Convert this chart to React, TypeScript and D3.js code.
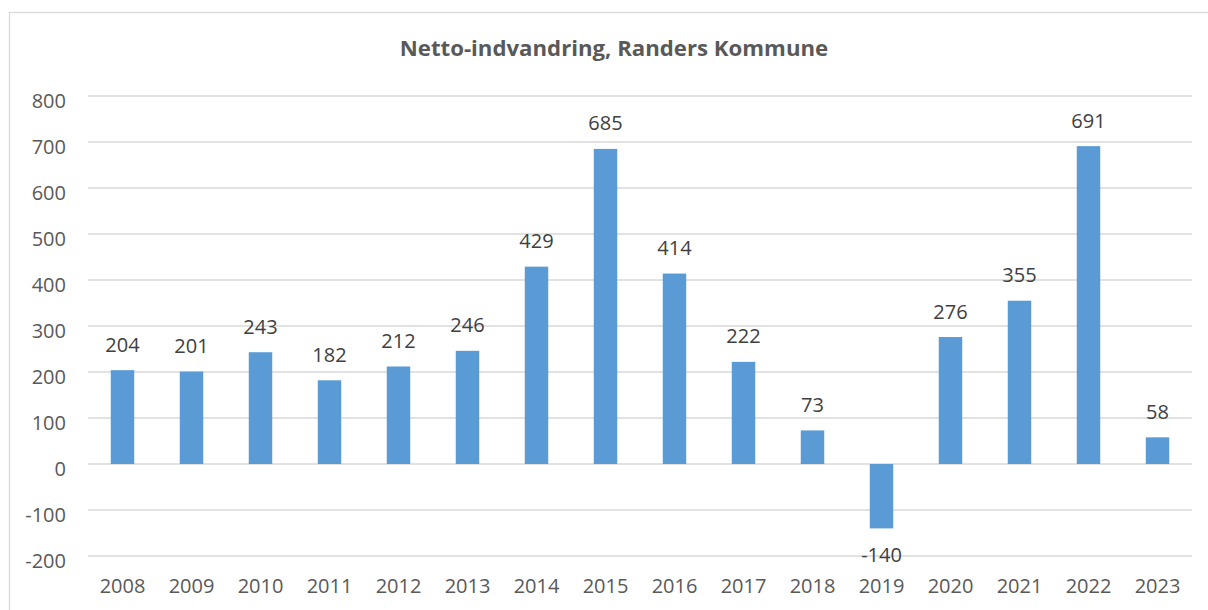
import React from "react";
import * as d3 from "d3";

const years = ["2008","2009","2010","2011","2012","2013","2014","2015","2016","2017","2018","2019","2020","2021","2022","2023"];
const values = [204, 201, 243, 182, 212, 246, 429, 685, 414, 222, 73, -140, 276, 355, 691, 58];
const yTicks = [-200, -100, 0, 100, 200, 300, 400, 500, 600, 700, 800];
const title = "Netto-indvandring, Randers Kommune";

const W = 1208, H = 610;
const FONT = "'Open Sans', sans-serif";

export default function App() {
  const x = d3.scaleBand<string>().domain(years).range([88, 1192]).paddingInner(0.66).paddingOuter(0.33);
  const y = d3.scaleLinear().domain([-200, 800]).range([556, 96]);
  const bw = x.bandwidth();
  return (
    <svg width={W} height={H} style={{ position: "absolute", left: 0, top: 0, background: "#fff" }}>
      <rect x={9.5} y={12.5} width={1400} height={800} fill="#fff" stroke="#d9d9d9" strokeWidth={1.3} />
      <text x={614} y={56} textAnchor="middle" fontFamily={FONT} fontWeight="bold" fontSize={22.2} fill="#595959">{title}</text>
      {yTicks.map(t => (
        <g key={t}>
          <line x1={88} x2={1192} y1={y(t)} y2={y(t)} stroke="#d9d9d9" strokeWidth={1.5} />
          <text x={66} y={y(t) + 12} textAnchor="end" fontFamily={FONT} fontSize={20} fill="#595959">{t}</text>
        </g>
      ))}
      {years.map((yr, i) => {
        const v = values[i];
        const x0 = x(yr)!;
        const top = y(Math.max(0, v));
        const bot = y(Math.min(0, v));
        const cx = x0 + bw / 2;
        return (
          <g key={yr}>
            <rect x={x0} y={top} width={bw} height={bot - top} fill="#5b9bd5" />
            <text x={cx} y={v >= 0 ? top - 18.5 : bot + 34} textAnchor="middle" fontFamily={FONT} fontSize={20} fill="#404040">{v}</text>
            <text x={cx} y={593} textAnchor="middle" fontFamily={FONT} fontSize={20} fill="#595959">{yr}</text>
          </g>
        );
      })}
    </svg>
  );
}
